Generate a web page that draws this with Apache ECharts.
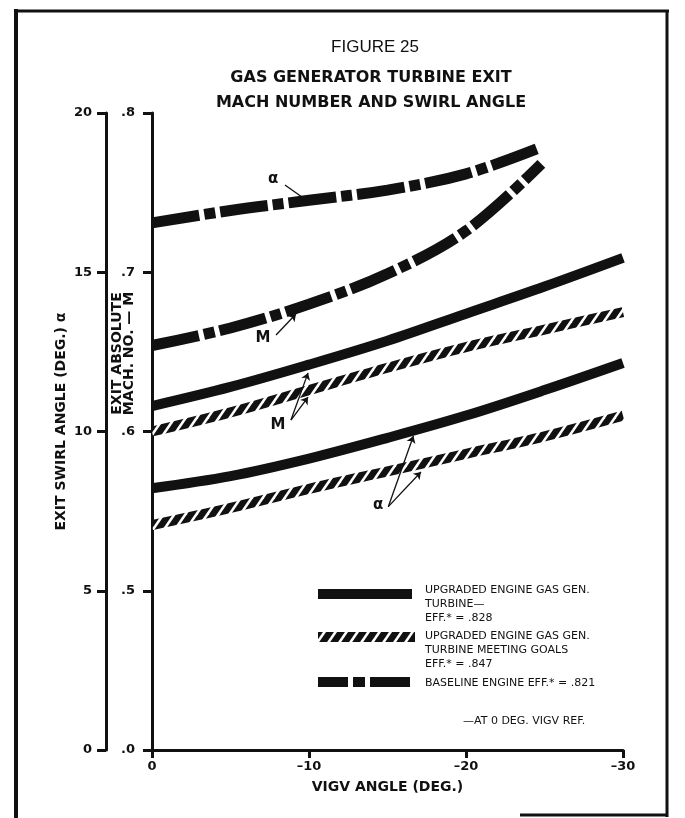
<!DOCTYPE html>
<html><head><meta charset="utf-8">
<script src="https://cdn.jsdelivr.net/npm/echarts@6/dist/echarts.min.js"></script>
<style>html,body{margin:0;padding:0;background:#fff}#c{width:685px;height:818px}</style>
</head><body><div id="c"></div>
<script>
// ---- data ----
// VIGV angle, deg (x axis)
const vigvUpgraded = [0, -5, -10, -15, -20, -25, -30];
const vigvBaseline = [0, -5, -10, -15, -20, -24.8];
// Exit swirl angle alpha, deg
const swirlUpgraded = [8.22, 8.6, 9.15, 9.8, 10.5, 11.3, 12.15];
const swirlGoals    = [7.06, 7.6, 8.2, 8.75, 9.3, 9.85, 10.5];
const swirlBaseline = [16.55, 16.94, 17.26, 17.58, 18.09, 18.93];
// Exit absolute Mach number
const machUpgraded = [0.616, 0.628, 0.642, 0.657, 0.674, 0.691, 0.709];
const machGoals    = [0.600, 0.612, 0.626, 0.640, 0.653, 0.664, 0.675];
const machBaseline = [0.654, 0.665, 0.680, 0.699, 0.726, 0.768];
// tick labels
const swirlTicks = [0, 5, 10, 15, 20];
const machTickLabels = ['.0', '.5', '.6', '.7', '.8'];
// annotation labels and leaders (data coordinates: VIGV deg, swirl-axis units)
const noteLabels = [
  {text: 'α', at: [-7.71, 17.93]},
  {text: 'M', at: [-7.07, 12.94]},
  {text: 'M', at: [-8.03, 10.20]},
  {text: 'α', at: [-14.41, 7.69]}
];
const noteLeaders = [
  {from: [-8.47, 17.74], to: [-9.55, 17.36], arrow: false},
  {from: [-7.90, 13.03], to: [-9.17, 13.69], arrow: true},
  {from: [-8.85, 10.36], to: [-9.94, 11.84], arrow: true},
  {from: [-8.85, 10.36], to: [-9.94, 11.08], arrow: true},
  {from: [-15.05, 7.64], to: [-16.65, 9.86], arrow: true},
  {from: [-15.05, 7.64], to: [-17.13, 8.73], arrow: true}
];

// Mach scale is broken: .0 at 0, then .5 -> .8 spans 5 -> 20 on the swirl scale
function machToAxis(m) { return m >= 0.5 ? 5 + (m - 0.5) * 50 : m * 10; }

function makeHatch() {
  const w = 11, h = 16;
  const c = document.createElement('canvas');
  c.width = w; c.height = h;
  const g = c.getContext('2d');
  g.fillStyle = '#111'; g.fillRect(0, 0, w, h);
  g.strokeStyle = '#fff'; g.lineWidth = 2.6;
  for (let k = -1; k <= 1; k++) {
    g.beginPath();
    g.moveTo(k * w - w, 2 * h);
    g.lineTo(k * w + 2 * w, -h);
    g.stroke();
  }
  return c;
}
const hatch = {image: makeHatch(), repeat: 'repeat'};
const INK = '#111';
const dashDot = [48, 5, 11, 5];
const FONT = 'DejaVu Sans';

const chart = echarts.init(document.getElementById('c'), null, {renderer: 'canvas'});

function pairs(xs, ys) { return xs.map((x, i) => [x, ys[i]]); }

const lineBase = {type: 'line', symbol: 'none', smooth: 0.35, silent: true, animation: false};

const series = [
  Object.assign({}, lineBase, {
    name: 'Upgraded α', yAxisIndex: 1, data: pairs(vigvUpgraded, swirlUpgraded),
    lineStyle: {color: INK, width: 10, cap: 'butt'},
    markLine: {
      silent: true, animation: false, symbolSize: 7,
      label: {show: false},
      lineStyle: {color: INK, width: 1.3, type: 'solid'},
      data: noteLeaders.map(l => [
        {coord: l.from, symbol: 'none'},
        {coord: l.to, symbol: l.arrow ? 'arrow' : 'none'}
      ])
    },
    markPoint: {
      silent: true, animation: false, symbol: 'circle', symbolSize: 1,
      itemStyle: {color: 'rgba(0,0,0,0)'},
      label: {show: true, position: 'inside', formatter: '{b}', color: INK,
              fontSize: 15, fontWeight: 'bold', fontFamily: FONT},
      data: noteLabels.map(n => ({name: n.text, coord: n.at}))
    }
  }),
  Object.assign({}, lineBase, {
    name: 'Goals α', yAxisIndex: 1, data: pairs(vigvUpgraded, swirlGoals),
    lineStyle: {color: hatch, width: 10, cap: 'butt'}
  }),
  Object.assign({}, lineBase, {
    name: 'Baseline α', yAxisIndex: 1, data: pairs(vigvBaseline, swirlBaseline),
    lineStyle: {color: INK, width: 11, type: dashDot, cap: 'butt'}
  }),
  Object.assign({}, lineBase, {
    name: 'Upgraded M', yAxisIndex: 0, data: pairs(vigvUpgraded, machUpgraded.map(machToAxis)),
    lineStyle: {color: INK, width: 10, cap: 'butt'}
  }),
  Object.assign({}, lineBase, {
    name: 'Goals M', yAxisIndex: 0, data: pairs(vigvUpgraded, machGoals.map(machToAxis)),
    lineStyle: {color: hatch, width: 10, cap: 'butt'}
  }),
  Object.assign({}, lineBase, {
    name: 'Baseline M', yAxisIndex: 0, data: pairs(vigvBaseline, machBaseline.map(machToAxis)),
    lineStyle: {color: INK, width: 11, type: dashDot, cap: 'butt'}
  })
];

const axisFont = {color: INK, fontSize: 13, fontWeight: 'bold', fontFamily: FONT};
const nameFont = {color: INK, fontSize: 14, fontWeight: 'bold', fontFamily: FONT};

function txt(x, y, s, size, weight, align) {
  return {type: 'text', x: x, y: y, silent: true,
    style: {text: s, fill: INK, font: (weight || 'normal') + ' ' + size + 'px "' + FONT + '"',
            textAlign: align || 'left', textVerticalAlign: 'middle'}};
}
function seg(x1, y1, x2, y2, w, stroke, dash) {
  return {type: 'line', silent: true, shape: {x1: x1, y1: y1, x2: x2, y2: y2},
    style: {stroke: stroke || INK, lineWidth: w, lineDash: dash || null, lineCap: 'butt'}};
}

const graphic = [
  // page frame
  seg(16, 9, 16, 818, 4),
  seg(14, 11, 669, 11, 3),
  seg(667, 10, 667, 817, 3),
  seg(520, 815, 668, 815, 3),
  // headings
  {type: 'text', x: 375, y: 47, silent: true,
   style: {text: 'FIGURE 25', fill: INK, font: 'normal 17px "Liberation Sans"', textAlign: 'center', textVerticalAlign: 'middle'}},
  txt(371, 78, 'GAS GENERATOR TURBINE EXIT', 16, 'bold', 'center'),
  txt(371, 103, 'MACH NUMBER AND SWIRL ANGLE', 16, 'bold', 'center'),
  // key
  seg(318, 594, 412, 594, 10),
  txt(425, 590, 'UPGRADED ENGINE GAS GEN.', 11),
  txt(425, 604, 'TURBINE—', 11),
  txt(425, 618, 'EFF.* = .828', 11),
  seg(318, 637, 415, 637, 10, hatch),
  txt(425, 636, 'UPGRADED ENGINE GAS GEN.', 11),
  txt(425, 650, 'TURBINE MEETING GOALS', 11),
  txt(425, 664, 'EFF.* = .847', 11),
  seg(318, 682, 410, 682, 10, INK, [30, 5, 12, 5, 60]),
  txt(425, 683, 'BASELINE ENGINE EFF.* = .821', 11),
  txt(463, 721, '—AT 0 DEG. VIGV REF.', 11)
];

chart.setOption({
  animation: false,
  backgroundColor: '#fff',
  grid: {left: 152, right: 62, top: 113, bottom: 68, containLabel: false},
  xAxis: {
    type: 'value', min: -30, max: 0, interval: 10, inverse: true,
    splitLine: {show: false},
    axisLine: {show: true, lineStyle: {color: INK, width: 3}},
    axisTick: {show: true, length: 8, lineStyle: {color: INK, width: 3}},
    axisLabel: Object.assign({margin: 10, formatter: v => v === 0 ? '0' : '–' + Math.abs(v)}, axisFont),
    name: 'VIGV ANGLE (DEG.)', nameLocation: 'middle', nameGap: 30, nameMoveOverlap: false,
    nameTextStyle: nameFont
  },
  yAxis: [
    {
      type: 'value', position: 'left', offset: 0, min: 0, max: 20, interval: 5,
      splitLine: {show: false},
      axisLine: {show: true, onZero: false, lineStyle: {color: INK, width: 3}},
      axisTick: {show: true, length: 9, lineStyle: {color: INK, width: 3}},
      axisLabel: Object.assign({margin: 17, formatter: v => machTickLabels[swirlTicks.indexOf(v)]}, axisFont),
      name: 'EXIT ABSOLUTE\nMACH. NO. — M', nameLocation: 'middle', nameRotate: 90, nameGap: 17,
      nameMoveOverlap: false,
      nameTextStyle: Object.assign({lineHeight: 12, padding: [0, 0, 0, 156]}, nameFont)
    },
    {
      type: 'value', position: 'left', offset: 46, min: 0, max: 20, interval: 5,
      splitLine: {show: false},
      axisLine: {show: true, onZero: false, lineStyle: {color: INK, width: 3}},
      axisTick: {show: true, length: 9, lineStyle: {color: INK, width: 3}},
      axisLabel: Object.assign({margin: 14}, axisFont),
      name: 'EXIT SWIRL ANGLE (DEG.) α', nameLocation: 'middle', nameRotate: 90, nameGap: 38,
      nameMoveOverlap: false,
      nameTextStyle: Object.assign({padding: [0, 0, 0, 20]}, nameFont)
    }
  ],
  series: series,
  graphic: graphic
});
</script>
</body></html>
